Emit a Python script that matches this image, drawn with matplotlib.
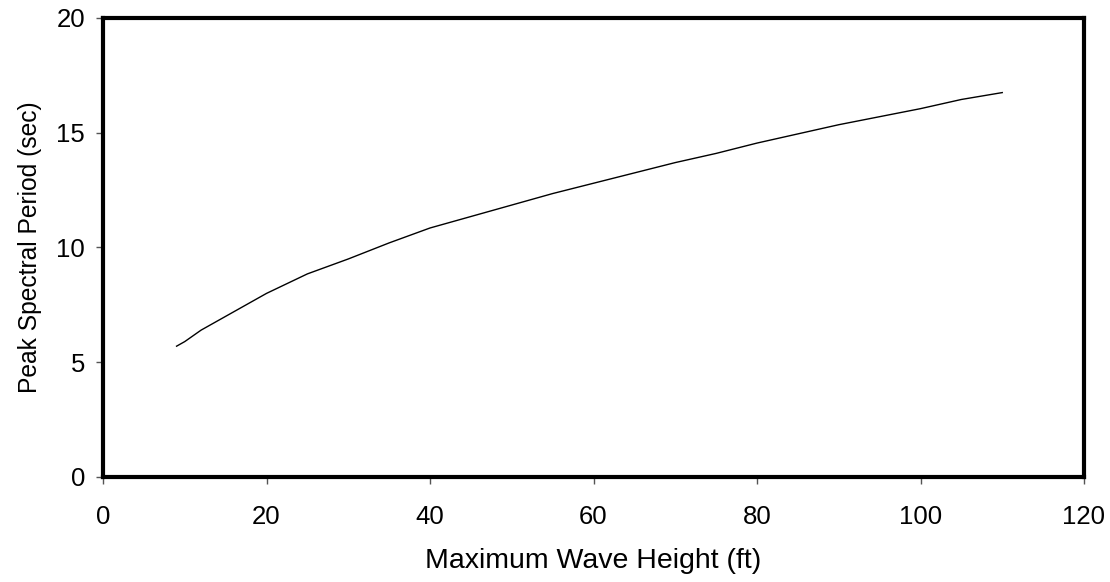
import matplotlib
matplotlib.use("Agg")
import matplotlib.pyplot as plt

# values
wave_height = [9, 10, 12, 15, 18, 20, 25, 30, 35, 40, 45, 50, 55, 60,
               65, 70, 75, 80, 85, 90, 95, 100, 105, 110]
peak_period = [5.7, 5.9, 6.4, 7.0, 7.6, 8.0, 8.85, 9.5, 10.2, 10.85, 11.35, 11.85, 12.35, 12.8,
               13.25, 13.7, 14.1, 14.55, 14.95, 15.35, 15.7, 16.05, 16.45, 16.75]
x_ticks = [0, 20, 40, 60, 80, 100, 120]
y_ticks = [0, 5, 10, 15, 20]

plt.rcParams['font.family'] = ['Liberation Sans', 'DejaVu Sans']

fig = plt.figure(figsize=(11.1, 5.82), dpi=100)
ax = fig.add_axes([103 / 1110, 1 - 477 / 582, (1084 - 103) / 1110, (477 - 18) / 582])

ax.plot(wave_height, peak_period, color='black', lw=1.0)

ax.set_xlim(0, 120)
ax.set_ylim(0, 20)
ax.set_xticks(x_ticks)
ax.set_yticks(y_ticks)
ax.tick_params(direction='out', length=5, width=1, color='#555555', labelsize=18.5)
ax.tick_params(axis='y', pad=8)
ax.tick_params(axis='x', pad=15)

for s in ax.spines.values():
    s.set_linewidth(3)

ax.set_xlabel('Maximum Wave Height (ft)', fontsize=20.5, labelpad=14)
ax.set_ylabel('Peak Spectral Period (sec)', fontsize=17.7, labelpad=10)

fig.savefig('out.png', dpi=100)
